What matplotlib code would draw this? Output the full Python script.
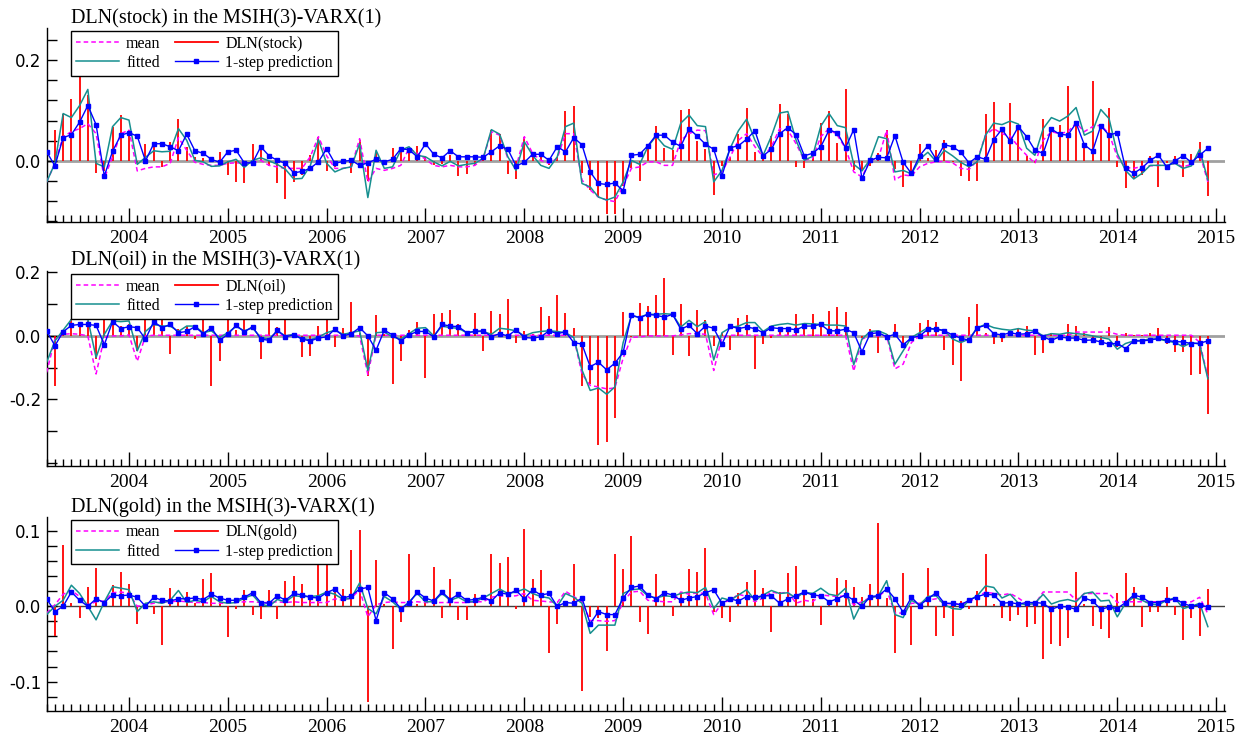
import numpy as np
import pandas as pd
import matplotlib
matplotlib.use("Agg")
import matplotlib.pyplot as plt
from matplotlib.lines import Line2D
from matplotlib.ticker import MultipleLocator, FixedLocator

# monthly sample 2003(3) - 2014(12)
dates = pd.date_range("2003-03-01", periods=142, freq="MS")
t = dates.year + (dates.month - 1) / 12.0

# ---------------- DLN(stock) ----------------
stock_actual = [
    -0.040, 0.062, 0.094, 0.122, 0.223, 0.130, -0.025, -0.020, 0.068, 0.091, 0.061, -0.005,
    0.034, 0.038, -0.012, 0.038, 0.084, 0.028, 0.008, 0.005, 0.008, 0.018, -0.028, -0.042,
    -0.045, 0.033, 0.028, -0.010, -0.045, -0.075, -0.042, -0.028, 0.011, 0.048, -0.020, -0.012,
    -0.005, -0.025, 0.041, -0.040, 0.015, -0.009, 0.025, 0.021, 0.021, 0.030, 0.008, -0.009,
    -0.007, 0.011, -0.030, -0.026, -0.009, 0.008, 0.061, 0.054, -0.026, -0.036, 0.048, 0.011,
    0.015, -0.009, 0.008, 0.099, 0.109, -0.025, -0.058, -0.072, -0.106, -0.106, -0.050,
    -0.015, -0.040, 0.028, 0.070, 0.025, 0.021, 0.101, 0.103, 0.039, 0.023, -0.068, -0.010,
    0.008, 0.054, 0.106, 0.018, 0.008, 0.049, 0.113, 0.093, -0.012, -0.014, 0.015, 0.075,
    0.099, 0.036, 0.142, -0.019, -0.020, -0.010, 0.016, 0.061, -0.017, -0.052, -0.025,
    0.034, 0.005, 0.021, 0.042, -0.003, -0.030, -0.040, -0.040, 0.094, 0.117, 0.064, 0.114,
    0.071, 0.009, -0.005, 0.084, 0.064, 0.071, 0.149, 0.069, 0.025, 0.158, 0.071, 0.106,
    -0.012, -0.054, -0.035, -0.028, 0.010, -0.052, -0.005, 0.010, -0.033, 0.013, 0.038, -0.070]
stock_fitted = [
    -0.042, -0.005, 0.094, 0.086, 0.110, 0.142, -0.005, -0.012, 0.068, 0.086, 0.081, -0.007,
    0.007, 0.020, 0.018, 0.019, 0.064, 0.041, 0.001, -0.002, -0.011, -0.010, -0.002, 0.003,
    -0.013, 0.001, 0.006, 0.000, -0.007, -0.017, -0.036, -0.035, -0.010, 0.042, -0.005, -0.022,
    -0.015, -0.012, 0.034, -0.073, 0.021, -0.015, -0.012, 0.021, 0.028, 0.011, 0.008, -0.002,
    -0.010, -0.001, -0.010, -0.007, -0.005, 0.005, 0.062, 0.053, 0.008, -0.019, 0.038, 0.011,
    -0.009, -0.015, 0.008, 0.068, 0.075, -0.045, -0.052, -0.072, -0.078, -0.072, -0.042,
    0.001, -0.007, 0.028, 0.049, 0.030, 0.023, 0.075, 0.091, 0.070, 0.068, -0.042, -0.019,
    0.025, 0.060, 0.083, 0.041, 0.011, 0.049, 0.095, 0.098, 0.041, 0.001, 0.009, 0.069,
    0.094, 0.070, 0.066, -0.007, -0.020, 0.003, 0.048, 0.044, -0.022, -0.019, -0.026,
    0.003, 0.017, -0.001, 0.021, 0.010, -0.003, -0.012, -0.002, 0.051, 0.075, 0.072, 0.079,
    0.073, 0.025, 0.011, 0.064, 0.086, 0.079, 0.089, 0.106, 0.051, 0.059, 0.102, 0.084,
    0.015, -0.019, -0.036, -0.025, -0.009, -0.009, -0.009, -0.005, -0.015, -0.010, 0.023, -0.038]
stock_mean = [
    -0.042, -0.005, 0.048, 0.058, 0.064, 0.074, 0.054, -0.035, 0.008, 0.054, 0.061, -0.020,
    -0.015, -0.012, -0.012, -0.005, 0.046, 0.021, -0.003, -0.007, -0.009, -0.009, -0.005, -0.004,
    -0.005, -0.004, 0.001, -0.009, -0.012, -0.015, -0.015, -0.015, 0.008, 0.048, 0.010, -0.015,
    -0.015, -0.012, 0.044, -0.042, -0.015, -0.019, -0.015, -0.009, 0.025, 0.015, 0.003, -0.009,
    -0.012, -0.009, -0.012, -0.012, -0.009, 0.005, 0.058, 0.051, 0.005, -0.012, 0.048, 0.015,
    0.001, -0.005, 0.005, 0.054, 0.054, -0.038, -0.058, -0.072, -0.078, -0.081, -0.050,
    -0.015, -0.012, -0.002, -0.002, -0.009, -0.009, 0.041, 0.054, 0.061, 0.060, -0.028, -0.022,
    0.008, 0.041, 0.054, 0.028, 0.008, 0.028, 0.064, 0.061, 0.034, 0.001, 0.005, 0.048,
    0.064, 0.051, 0.025, -0.022, -0.032, 0.001, 0.005, 0.061, -0.038, -0.028, -0.030,
    -0.012, -0.005, -0.002, -0.001, -0.004, -0.015, -0.017, 0.001, 0.051, 0.064, 0.054, 0.049,
    0.028, 0.011, -0.005, 0.041, 0.058, 0.054, 0.058, 0.075, 0.058, 0.068, 0.071, 0.054,
    0.008, -0.013, -0.015, -0.011, -0.010, -0.009, -0.009, -0.005, -0.012, -0.007, 0.015, -0.042]
stock_pred = [
    0.018, -0.010, 0.046, 0.052, 0.077, 0.110, 0.072, -0.030, 0.019, 0.051, 0.056, 0.049,
    0.000, 0.034, 0.034, 0.028, 0.020, 0.053, 0.020, 0.015, 0.003, -0.003, 0.018, 0.021,
    -0.004, -0.004, 0.028, 0.010, 0.001, -0.005, -0.024, -0.021, -0.015, -0.002, 0.024, -0.005,
    -0.001, 0.001, -0.009, -0.004, 0.003, -0.002, 0.003, 0.024, 0.022, 0.008, 0.034, 0.013,
    0.006, 0.020, 0.008, 0.008, 0.008, 0.007, 0.018, 0.030, 0.023, -0.010, -0.003, 0.013,
    0.013, 0.001, 0.028, 0.018, 0.046, 0.032, -0.022, -0.045, -0.047, -0.044, -0.060,
    0.011, 0.013, 0.030, 0.051, 0.051, 0.037, 0.029, 0.064, 0.049, 0.033, 0.023, -0.030,
    0.026, 0.030, 0.043, 0.060, 0.010, 0.023, 0.054, 0.066, 0.052, 0.010, 0.015, 0.028,
    0.061, 0.056, 0.026, 0.062, -0.035, 0.001, 0.007, 0.006, 0.050, -0.003, -0.025,
    0.010, 0.030, 0.003, 0.032, 0.028, 0.017, -0.004, 0.008, 0.003, 0.042, 0.063, 0.039,
    0.068, 0.048, 0.021, 0.015, 0.063, 0.053, 0.051, 0.075, 0.032, 0.019, 0.070, 0.051,
    0.056, -0.015, -0.025, -0.014, 0.001, 0.011, -0.012, 0.000, 0.010, -0.003, 0.011, 0.025]

# ---------------- DLN(oil) ----------------
oil_actual = [
    -0.104, -0.159, 0.015, 0.052, 0.028, 0.047, -0.073, 0.078, 0.036, 0.031, 0.036, -0.047,
    0.083, 0.047, 0.120, -0.057, 0.021, 0.031, -0.010, 0.118, -0.159, -0.078, 0.130, 0.018,
    0.120, 0.004, -0.073, 0.120, 0.028, 0.125, -0.005, -0.068, -0.063, 0.031, 0.109, -0.036,
    0.024, 0.107, 0.008, -0.125, 0.065, 0.006, -0.153, -0.078, 0.020, 0.045, -0.133, 0.070,
    0.071, 0.081, 0.036, 0.006, 0.071, -0.049, 0.078, 0.068, 0.115, -0.021, 0.014, 0.005,
    0.092, 0.063, 0.130, 0.071, 0.024, -0.159, -0.151, -0.344, -0.336, -0.258, 0.075,
    -0.005, 0.104, 0.094, 0.130, 0.184, -0.059, 0.101, -0.063, 0.081, 0.049, -0.031, 0.008,
    -0.044, 0.055, 0.065, -0.104, -0.024, -0.008, 0.028, 0.026, 0.070, 0.028, 0.068, 0.045,
    0.078, 0.092, 0.075, 0.006, -0.008, 0.023, -0.054, 0.005, 0.036, -0.026, -0.008,
    0.042, 0.049, 0.045, -0.045, -0.092, -0.143, 0.059, 0.099, 0.010, -0.024, -0.018, 0.005,
    0.024, 0.031, -0.059, -0.054, 0.010, 0.004, 0.036, 0.031, 0.010, -0.010, -0.016, 0.028,
    -0.036, 0.008, 0.004, 0.003, 0.010, 0.024, -0.024, -0.050, -0.052, -0.123, -0.120, -0.245]
oil_fitted = [
    -0.083, -0.016, 0.018, 0.052, 0.057, 0.052, -0.068, 0.005, 0.047, 0.045, 0.047, -0.047,
    0.014, 0.036, 0.031, 0.031, 0.014, 0.031, 0.031, 0.010, 0.016, -0.005, 0.010, 0.030,
    0.016, 0.025, -0.005, -0.010, 0.015, 0.000, 0.005, -0.008, -0.012, -0.004, 0.010, 0.018,
    0.005, 0.010, 0.016, -0.109, 0.010, 0.012, -0.003, -0.010, 0.007, 0.024, 0.026, 0.000,
    0.031, 0.026, 0.024, 0.010, 0.014, 0.014, 0.005, 0.024, 0.021, 0.016, 0.000, 0.010,
    0.014, 0.016, 0.014, 0.010, -0.005, -0.107, -0.172, -0.164, -0.184, -0.161, -0.021,
    0.063, 0.059, 0.068, 0.068, 0.070, 0.068, 0.028, 0.049, 0.029, 0.045, -0.076, 0.010,
    0.026, 0.031, 0.042, 0.042, 0.014, 0.031, 0.036, 0.039, 0.034, 0.039, 0.038, 0.036,
    0.034, 0.034, 0.031, -0.091, -0.010, 0.014, 0.016, 0.005, -0.089, -0.047, -0.005,
    0.010, 0.026, 0.019, 0.018, -0.010, -0.021, -0.010, 0.026, 0.036, 0.026, 0.021, 0.018,
    0.023, 0.018, 0.016, 0.000, 0.007, 0.005, 0.010, 0.007, 0.005, 0.000, -0.005, -0.010,
    -0.042, -0.024, -0.016, -0.014, -0.010, -0.010, -0.016, -0.021, -0.034, -0.021, -0.026, -0.135]
oil_mean = [
    -0.115, -0.010, 0.005, 0.007, 0.005, 0.000, -0.120, -0.005, 0.000, 0.000, 0.003, -0.080,
    0.000, 0.002, 0.002, 0.002, 0.002, 0.002, 0.002, 0.002, 0.002, 0.002, 0.002, 0.002,
    0.002, 0.002, 0.002, 0.002, 0.002, 0.002, 0.002, 0.002, 0.002, 0.002, 0.002, 0.002,
    0.002, 0.002, 0.000, -0.122, 0.002, 0.002, 0.002, 0.002, 0.002, 0.002, 0.002, 0.002,
    0.002, 0.002, 0.002, 0.002, 0.002, 0.002, 0.002, 0.002, 0.002, 0.002, 0.002, 0.002,
    0.002, 0.002, 0.002, 0.002, -0.005, -0.120, -0.156, -0.161, -0.167, -0.164, -0.070,
    -0.005, -0.003, 0.000, 0.000, 0.000, 0.000, 0.003, 0.007, 0.007, 0.005, -0.109, -0.005,
    0.002, 0.002, 0.002, 0.002, 0.002, 0.002, 0.002, 0.002, 0.002, 0.002, 0.002, 0.002,
    0.002, 0.002, 0.002, -0.111, -0.010, 0.000, 0.000, 0.000, -0.104, -0.089, -0.021,
    0.000, 0.002, 0.002, 0.002, 0.002, 0.002, 0.002, 0.002, 0.002, 0.002, 0.002, 0.002,
    0.002, 0.002, 0.002, 0.002, 0.002, 0.002, 0.002, 0.012, 0.012, 0.012, 0.012, 0.012,
    0.005, 0.002, 0.002, 0.002, 0.002, 0.002, 0.002, 0.002, 0.002, 0.002, -0.020, -0.130]
oil_pred = [
    0.016, -0.031, 0.013, 0.033, 0.036, 0.036, 0.033, -0.028, 0.045, 0.023, 0.029, 0.026,
    -0.010, 0.045, 0.026, 0.036, 0.010, 0.014, 0.029, 0.007, 0.026, -0.014, 0.005, 0.033,
    0.013, 0.029, -0.010, -0.014, 0.018, -0.003, 0.003, -0.010, -0.016, -0.007, -0.003, 0.021,
    0.000, 0.007, 0.026, 0.000, -0.045, 0.018, 0.003, -0.016, 0.003, 0.014, 0.014, -0.003,
    0.036, 0.031, 0.029, 0.010, 0.014, 0.016, -0.002, 0.007, 0.000, 0.019, -0.005, -0.007,
    -0.003, 0.016, 0.007, 0.013, -0.021, -0.026, -0.097, -0.083, -0.107, -0.086, -0.052,
    0.066, 0.057, 0.068, 0.065, 0.059, 0.068, 0.021, 0.033, 0.007, 0.031, 0.024, -0.026,
    0.031, 0.023, 0.028, 0.023, 0.010, 0.026, 0.023, 0.023, 0.019, 0.031, 0.031, 0.036,
    0.016, 0.016, 0.021, 0.010, -0.050, 0.007, 0.010, -0.003, 0.005, -0.028, -0.006,
    0.000, 0.021, 0.023, 0.016, 0.003, -0.007, -0.014, 0.026, 0.033, 0.007, 0.003, 0.010,
    0.005, 0.007, 0.014, -0.003, -0.014, -0.003, -0.007, -0.007, -0.014, -0.013, -0.019, -0.026,
    -0.023, -0.040, -0.016, -0.016, -0.013, -0.008, -0.014, -0.018, -0.019, -0.024, -0.023, -0.016]

# ---------------- DLN(gold) ----------------
gold_actual = [
    -0.051, -0.039, 0.081, 0.004, -0.016, 0.025, 0.051, 0.003, 0.028, 0.046, 0.030, -0.023,
    0.003, -0.010, -0.051, 0.024, 0.008, 0.019, 0.004, 0.036, 0.044, 0.006, -0.041, -0.004,
    0.022, -0.011, -0.017, 0.022, -0.017, 0.034, 0.040, 0.030, 0.011, 0.067, 0.075, 0.019,
    0.023, 0.075, 0.101, -0.127, 0.062, 0.003, -0.057, -0.021, 0.069, 0.003, 0.010, 0.052,
    -0.015, 0.036, -0.018, -0.018, 0.016, 0.000, 0.070, 0.058, 0.065, -0.004, 0.103, 0.036,
    0.048, -0.062, -0.024, 0.005, 0.056, -0.113, -0.014, -0.016, -0.059, 0.070, 0.050,
    0.093, -0.021, -0.037, 0.043, 0.017, -0.013, 0.017, 0.049, 0.046, 0.077, -0.007, -0.015,
    -0.021, 0.017, 0.032, 0.048, 0.024, -0.034, 0.019, 0.044, 0.053, 0.017, 0.010, -0.025,
    0.008, 0.037, 0.035, 0.025, 0.013, 0.029, 0.110, 0.011, -0.062, 0.044, -0.051,
    0.005, 0.051, -0.040, -0.015, -0.040, 0.007, -0.003, 0.020, 0.070, 0.003, -0.016, -0.019,
    -0.011, -0.027, -0.023, -0.070, -0.050, -0.053, -0.042, 0.045, 0.003, -0.026, -0.030, -0.042,
    0.017, 0.044, 0.026, -0.028, -0.008, -0.007, 0.025, -0.011, -0.045, -0.015, -0.039, 0.023]
gold_fitted = [
    -0.011, 0.000, 0.008, 0.028, 0.017, 0.000, -0.018, 0.006, 0.026, 0.024, 0.022, -0.007,
    0.004, 0.006, 0.004, 0.008, 0.021, 0.005, 0.008, 0.006, 0.013, 0.006, 0.004, 0.005,
    0.011, 0.015, 0.003, 0.000, 0.009, 0.006, 0.014, 0.013, 0.013, 0.014, 0.019, 0.016,
    0.009, 0.011, 0.031, -0.003, -0.010, 0.013, 0.006, -0.004, 0.006, 0.017, 0.006, 0.006,
    0.017, 0.008, 0.012, 0.006, 0.006, 0.011, 0.017, 0.023, 0.017, 0.019, 0.023, 0.017,
    0.013, 0.011, 0.000, 0.017, 0.012, 0.004, -0.036, -0.025, -0.025, -0.025, 0.017,
    0.022, 0.023, 0.014, 0.011, 0.014, 0.013, 0.017, 0.019, 0.018, 0.025, -0.003, 0.011,
    0.008, 0.015, 0.022, 0.008, 0.015, 0.021, 0.017, 0.018, 0.011, 0.019, 0.017, 0.024,
    0.016, 0.014, 0.024, -0.017, 0.005, 0.011, 0.014, 0.034, -0.011, -0.015, 0.008,
    0.002, 0.013, 0.014, 0.002, -0.003, -0.004, 0.008, 0.014, 0.027, 0.025, 0.011, 0.016,
    0.004, 0.002, 0.004, 0.016, 0.003, 0.007, 0.009, 0.006, 0.017, 0.019, 0.007, 0.008,
    -0.014, 0.004, 0.012, 0.008, 0.003, 0.002, 0.008, 0.011, -0.003, 0.000, 0.004, -0.027]
gold_mean = [
    -0.009, 0.002, 0.016, 0.021, 0.013, 0.002, 0.006, 0.007, 0.018, 0.019, 0.017, 0.000,
    0.002, 0.004, 0.006, 0.006, 0.007, 0.006, 0.005, 0.005, 0.004, 0.004, 0.004, 0.005,
    0.006, 0.006, 0.005, 0.005, 0.006, 0.005, 0.006, 0.005, 0.005, 0.005, 0.005, 0.010,
    0.008, 0.011, 0.022, -0.014, 0.002, 0.005, 0.006, 0.005, 0.005, 0.006, 0.005, 0.005,
    0.005, 0.005, 0.005, 0.005, 0.006, 0.006, 0.012, 0.014, 0.013, 0.014, 0.017, 0.008,
    0.007, 0.006, 0.005, 0.020, 0.013, 0.006, -0.019, -0.019, -0.020, -0.019, 0.006,
    0.019, 0.020, 0.008, 0.007, 0.006, 0.006, 0.019, 0.016, 0.018, 0.017, -0.011, 0.004,
    0.008, 0.016, 0.013, 0.006, 0.011, 0.019, 0.017, 0.019, 0.004, 0.008, 0.006, 0.015,
    0.014, 0.013, 0.014, 0.002, 0.006, 0.012, 0.013, 0.022, -0.009, -0.009, 0.004,
    0.004, 0.008, 0.010, 0.004, 0.003, 0.003, 0.006, 0.012, 0.019, 0.017, 0.015, 0.017,
    0.011, 0.003, 0.003, 0.019, 0.019, 0.019, 0.019, 0.008, 0.017, 0.017, 0.017, 0.017,
    0.005, 0.006, 0.006, 0.006, 0.006, 0.006, 0.008, 0.009, 0.005, 0.006, 0.012, -0.010]
gold_pred = [
    0.010, -0.007, 0.000, 0.019, 0.008, 0.000, 0.010, 0.005, 0.015, 0.014, 0.015, 0.012,
    0.000, 0.012, 0.008, 0.007, 0.010, 0.010, 0.011, 0.009, 0.016, 0.011, 0.008, 0.008,
    0.012, 0.018, 0.005, 0.004, 0.014, 0.008, 0.017, 0.015, 0.012, 0.011, 0.018, 0.023,
    0.011, 0.014, 0.023, 0.025, -0.019, 0.018, 0.010, -0.003, 0.004, 0.019, 0.011, 0.007,
    0.019, 0.009, 0.016, 0.008, 0.009, 0.012, 0.007, 0.018, 0.016, 0.021, 0.010, 0.022,
    0.015, 0.017, 0.000, 0.005, 0.004, 0.011, -0.023, -0.007, -0.011, -0.011, 0.011,
    0.025, 0.027, 0.015, 0.010, 0.018, 0.015, 0.008, 0.011, 0.013, 0.018, 0.022, 0.004,
    0.010, 0.007, 0.013, 0.012, 0.014, 0.014, 0.004, 0.010, 0.014, 0.019, 0.015, 0.014,
    0.006, 0.010, 0.015, 0.008, 0.000, 0.013, 0.014, 0.023, 0.010, -0.008, 0.012,
    0.001, 0.010, 0.018, 0.004, 0.004, 0.002, 0.008, 0.013, 0.016, 0.015, 0.004, 0.005,
    0.003, 0.005, 0.005, 0.004, -0.004, 0.000, -0.001, -0.004, 0.011, 0.007, -0.004, -0.001,
    -0.003, 0.005, 0.015, 0.012, 0.005, 0.005, 0.008, 0.010, 0.004, 0.000, 0.002, -0.001]

panels = [
    ("stock", stock_actual, stock_fitted, stock_mean, stock_pred,
     (-0.121, 0.264), 0.04, [0.0, 0.2], "#a0a0a0", 2.0),
    ("oil", oil_actual, oil_fitted, oil_mean, oil_pred,
     (-0.41, 0.205), 0.1, [-0.2, 0.0, 0.2], "#a0a0a0", 2.0),
    ("gold", gold_actual, gold_fitted, gold_mean, gold_pred,
     (-0.139, 0.119), 0.02, [-0.1, 0.0, 0.1], "#404040", 1.0),
]

serif = "Liberation Serif"
fig = plt.figure(figsize=(12.41, 7.38), dpi=100)
boxes = [(0.0376, 0.6996, 0.9495, 0.2624),
         (0.0376, 0.3686, 0.9495, 0.2644),
         (0.0376, 0.0366, 0.9495, 0.2633)]

for (name, act, fit, mn, pred, ylim, ystep, ylabs, zc, zw), box in zip(panels, boxes):
    ax = fig.add_axes(box)
    ax.axhline(0, color=zc, lw=zw, zorder=1)
    ax.vlines(t, 0, act, color="#ff0000", lw=1.3, zorder=2)
    ax.plot(t, mn, color="#ff00ff", lw=1.1, ls=(0, (3, 2)), zorder=3)
    ax.plot(t, fit, color="#168f8f", lw=1.1, zorder=4)
    ax.plot(t, pred, color="#0000ff", lw=1.0, marker="s", ms=3.2, zorder=5)

    ax.set_xlim(t[0], 2015.09)
    ax.set_ylim(*ylim)
    for s in ("top", "right"):
        ax.spines[s].set_visible(False)
    ax.spines["left"].set_linewidth(1.0)
    ax.spines["bottom"].set_linewidth(1.0)

    years = np.arange(2004, 2016)
    ax.xaxis.set_major_locator(FixedLocator(years))
    ax.xaxis.set_minor_locator(MultipleLocator(1 / 12))
    ax.set_xticklabels([str(y) for y in years], fontfamily=serif, fontsize=14)
    ax.tick_params(axis="x", which="major", direction="in", length=10, width=1, pad=6)
    ax.tick_params(axis="x", which="minor", direction="in", length=5, width=1)

    ax.yaxis.set_major_locator(FixedLocator(ylabs))
    ax.yaxis.set_minor_locator(MultipleLocator(ystep))
    ax.set_yticklabels(["%.1f" % v for v in ylabs], fontsize=12)
    ax.tick_params(axis="y", which="both", direction="in", length=7, width=1, pad=4)

    ax.text(0.021, 1.0, "DLN(%s) in the MSIH(3)-VARX(1)" % name, transform=ax.transAxes,
            fontfamily=serif, fontsize=14.5, va="bottom", ha="left")

    handles = [Line2D([], [], color="#ff00ff", lw=1.1, ls=(0, (3, 2))),
               Line2D([], [], color="#168f8f", lw=1.1),
               Line2D([], [], color="#ff0000", lw=1.3),
               Line2D([], [], color="#0000ff", lw=1.0, marker="s", ms=3.2)]
    labels = ["mean", "fitted", "DLN(%s)" % name, "1-step prediction"]
    leg = ax.legend(handles, labels, ncol=2, loc="upper left", bbox_to_anchor=(0.0206, 0.985),
                    borderaxespad=0, frameon=True, fancybox=False, framealpha=1,
                    edgecolor="black", prop={"family": serif, "size": 11.5},
                    handlelength=2.7, borderpad=0.3, labelspacing=0.2,
                    columnspacing=0.9, handletextpad=0.45)
    leg.get_frame().set_linewidth(1.0)
    leg.set_zorder(10)

fig.savefig("out.png", dpi=100)
